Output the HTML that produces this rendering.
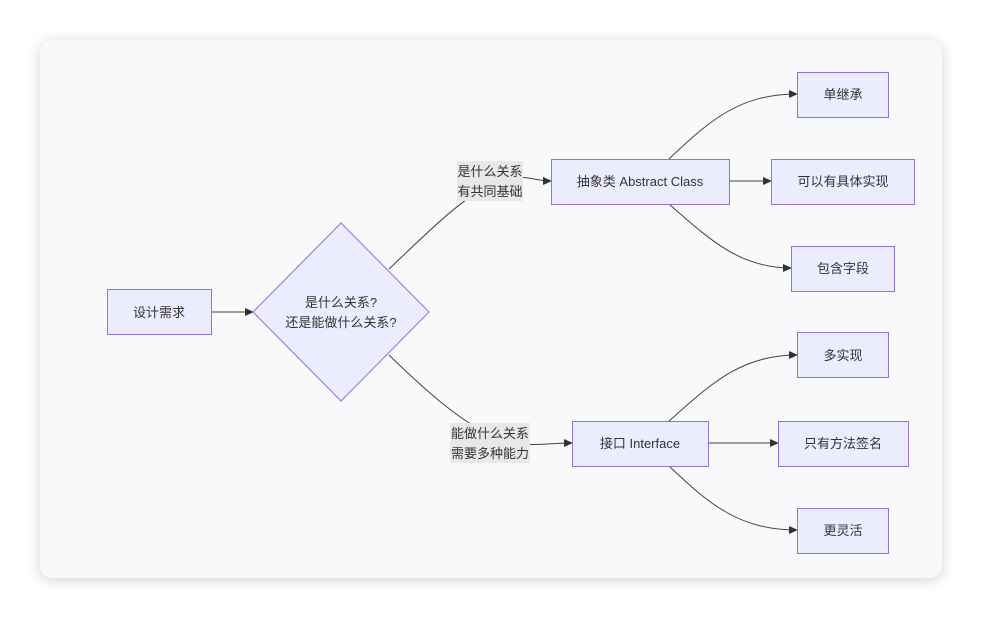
<!DOCTYPE html>
<html><head><meta charset="utf-8"><style>
body{margin:0;background:#fff;width:982px;height:618px;position:relative;overflow:hidden;font-family:"Liberation Sans","Noto Sans CJK SC",sans-serif;}
.card{position:absolute;left:40px;top:40px;width:902px;height:538px;background:#f8f9fb;border-radius:12px;box-shadow:0 2px 14px rgba(0,0,0,0.18);}
svg{position:absolute;left:0;top:0}
</style></head><body>
<div class="card"></div>
<svg width="982" height="618" font-family="Liberation Sans, Noto Sans CJK SC, sans-serif" font-size="13" fill="#333">
<defs><marker id="a" markerWidth="10" markerHeight="10" refX="8" refY="5" orient="auto" markerUnits="userSpaceOnUse"><path d="M0,1 L9,5 L0,9 z" fill="#333"/></marker></defs>
<g fill="none" stroke="#444" stroke-width="1" marker-end="url(#a)">
<path d="M211,312 L253,312"/>
<path d="M389,269 C430,230 460,200 490,185 S530,181 551,181"/>
<path d="M389,355 C430,395 460,420 490,435 S540,443 572,443"/>
<path d="M669,159 C710,120 740,94 797,94"/>
<path d="M729,181 L771,181"/>
<path d="M669,204 C710,240 740,268 791,268"/>
<path d="M669,421 C710,385 740,355 797,355"/>
<path d="M708,443 L778,443"/>
<path d="M669,466 C710,505 740,530 797,530"/>
</g>
<g fill="#ececff" stroke="#9370db" stroke-width="1">
<rect x="107.5" y="289.5" width="104" height="45"/>
<polygon points="341,223 429,312 341,401 253,312"/>
<rect x="551.5" y="159.5" width="178" height="45"/>
<rect x="797.5" y="72.5" width="91" height="45"/>
<rect x="771.5" y="159.5" width="143" height="45"/>
<rect x="791.5" y="246.5" width="103" height="45"/>
<rect x="572.5" y="421.5" width="136" height="45"/>
<rect x="797.5" y="332.5" width="91" height="45"/>
<rect x="778.5" y="421.5" width="130" height="45"/>
<rect x="797.5" y="508.5" width="91" height="45"/>
</g>
<rect x="457" y="161" width="66" height="40" fill="#e8e8e8"/>
<rect x="450" y="423" width="80" height="40" fill="#e8e8e8"/>
<g text-anchor="middle">
<text x="159" y="317">设计需求</text>
<text x="341" y="307">是什么关系?</text>
<text x="341" y="327">还是能做什么关系?</text>
<text x="490" y="176">是什么关系</text>
<text x="490" y="196">有共同基础</text>
<text x="490" y="438">能做什么关系</text>
<text x="490" y="458">需要多种能力</text>
<text x="640" y="186">抽象类 Abstract Class</text>
<text x="843" y="99">单继承</text>
<text x="843" y="186">可以有具体实现</text>
<text x="843" y="273">包含字段</text>
<text x="640" y="448">接口 Interface</text>
<text x="843" y="360">多实现</text>
<text x="843" y="448">只有方法签名</text>
<text x="843" y="535">更灵活</text>
</g>
</svg>
</body></html>
